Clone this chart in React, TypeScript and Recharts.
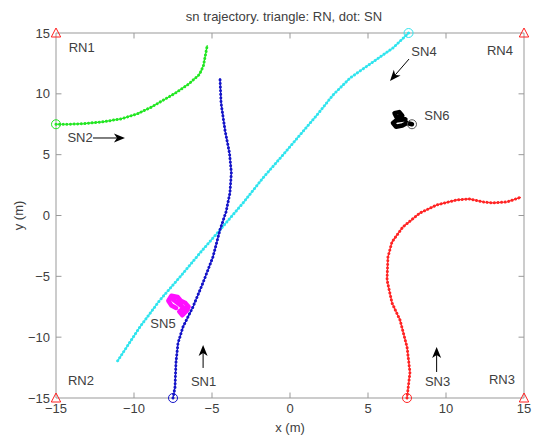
import React from "react";
import { ScatterChart, Scatter, XAxis, YAxis, ReferenceLine } from "recharts";

const axisTicks = [-15, -10, -5, 0, 5, 10, 15];

// SN1 (blue), start at the bottom
const sn1 = [
  { x: -7.5, y: -15 }, { x: -7.37, y: -14.1 }, { x: -7.31, y: -12.1 }, { x: -7.18, y: -10.5 },
  { x: -6.86, y: -9.16 }, { x: -6.22, y: -7.51 }, { x: -5.58, y: -5.54 }, { x: -4.94, y: -3.41 },
  { x: -4.49, y: -1.19 }, { x: -4.1, y: 0.3 }, { x: -3.85, y: 1.85 }, { x: -3.76, y: 3.5 },
  { x: -3.88, y: 5.14 }, { x: -4.17, y: 7.03 }, { x: -4.42, y: 9.25 }, { x: -4.49, y: 11.3 },
];

// SN2 (green)
const sn2 = [
  { x: -15, y: 7.5 }, { x: -14.2, y: 7.5 }, { x: -13.2, y: 7.55 }, { x: -12.0, y: 7.7 },
  { x: -10.8, y: 7.95 }, { x: -9.8, y: 8.35 }, { x: -8.9, y: 8.9 }, { x: -8.1, y: 9.5 },
  { x: -7.3, y: 10.1 }, { x: -6.5, y: 10.8 }, { x: -5.8, y: 11.6 }, { x: -5.55, y: 12.3 },
  { x: -5.45, y: 13.0 }, { x: -5.3, y: 14.0 },
];

// SN3 (red)
const sn3 = [
  { x: 7.5, y: -15 }, { x: 7.69, y: -12.9 }, { x: 7.5, y: -10.8 }, { x: 7.05, y: -8.58 },
  { x: 6.54, y: -7.19 }, { x: 6.22, y: -5.3 }, { x: 6.28, y: -3.41 }, { x: 6.54, y: -2.17 },
  { x: 7.24, y: -0.94 }, { x: 8.33, y: 0.21 }, { x: 9.42, y: 0.87 }, { x: 10.7, y: 1.28 },
  { x: 11.5, y: 1.36 }, { x: 12.4, y: 1.11 }, { x: 13.0, y: 1.03 }, { x: 13.9, y: 1.11 },
  { x: 14.8, y: 1.5 },
];

// SN4 (cyan)
const sn4 = [
  { x: 7.6, y: 15 }, { x: 6.6, y: 13.77 }, { x: 5.32, y: 12.62 }, { x: 3.85, y: 11.3 },
  { x: 2.76, y: 9.91 }, { x: 1.73, y: 8.26 }, { x: 0.64, y: 6.62 }, { x: -0.45, y: 4.98 },
  { x: -1.73, y: 3.09 }, { x: -3.01, y: 1.03 }, { x: -4.49, y: -1.19 }, { x: -5.77, y: -3.08 },
  { x: -7.05, y: -5.05 }, { x: -8.33, y: -6.94 }, { x: -9.62, y: -9.16 }, { x: -11.09, y: -12.03 },
];

// SN5 (magenta), a small cluster
const sn5 = [
  { x: -7.3, y: -7.6 }, { x: -7.6, y: -7.4 }, { x: -7.8, y: -7.0 }, { x: -7.6, y: -6.6 },
  { x: -7.2, y: -6.7 }, { x: -7.0, y: -7.0 }, { x: -6.7, y: -7.2 }, { x: -6.5, y: -7.5 },
  { x: -6.6, y: -7.8 }, { x: -6.9, y: -8.2 }, { x: -7.1, y: -7.9 }, { x: -6.8, y: -7.6 },
  { x: -7.1, y: -7.3 }, { x: -7.5, y: -6.9 },
];

// SN6 (black), a small cluster
const sn6 = [
  { x: 7.82, y: 7.5 }, { x: 7.5, y: 7.6 }, { x: 7.2, y: 7.4 }, { x: 6.8, y: 7.3 },
  { x: 6.6, y: 7.6 }, { x: 6.9, y: 7.9 }, { x: 6.7, y: 8.4 }, { x: 7.0, y: 8.5 },
  { x: 7.2, y: 8.2 }, { x: 7.0, y: 8.1 }, { x: 7.4, y: 7.9 }, { x: 6.8, y: 7.8 },
];

const rnPoints = [
  { x: -15, y: 15 }, { x: 15, y: 15 }, { x: -15, y: -15 }, { x: 15, y: -15 },
];

const nodeLabels = [
  { x: -13.35, y: 13.77, text: "RN1" },
  { x: -13.4, y: -13.6, text: "RN2" },
  { x: 13.59, y: -13.45, text: "RN3" },
  { x: 13.46, y: 13.6, text: "RN4" },
  { x: -13.46, y: 6.37, text: "SN2" },
  { x: 8.59, y: 13.44, text: "SN4" },
  { x: 9.42, y: 8.18, text: "SN6" },
  { x: -8.14, y: -8.91, text: "SN5" },
  { x: -5.54, y: -13.68, text: "SN1" },
  { x: 9.46, y: -13.68, text: "SN3" },
];

// arrows: tail -> tip
const arrows = [
  [{ x: -12.63, y: 6.37 }, { x: -10.58, y: 6.37 }],
  [{ x: 7.63, y: 12.86 }, { x: 6.41, y: 11.06 }],
  [{ x: -5.57, y: -12.53 }, { x: -5.57, y: -10.64 }],
  [{ x: 9.4, y: -12.86 }, { x: 9.4, y: -10.8 }],
];

const FRAME = "#999";
const TXT = "#404040";
const FONT = "'Liberation Sans', Arial, sans-serif";

const Nothing = () => <g />;

const Triangle = (p: any) => {
  const { cx, cy } = p;
  return (
    <path
      d={`M${cx},${cy - 5} L${cx + 4.7},${cy + 4} L${cx - 4.7},${cy + 4} Z`}
      fill="none"
      stroke="#ff2020"
      strokeWidth={1}
    />
  );
};

const ring = (color: string) => (p: any) =>
  <circle cx={p.cx} cy={p.cy} r={4.5} fill="none" stroke={color} strokeWidth={1} />;

const TextMark = (p: any) => (
  <text
    x={p.cx}
    y={p.cy}
    textAnchor="middle"
    dominantBaseline="central"
    fontSize={13}
    fontFamily={FONT}
    fill={TXT}
  >
    {p.payload.text}
  </text>
);

const Arrow = (p: any) => {
  const { x1, y1, x2, y2 } = p;
  const dx = x2 - x1;
  const dy = y2 - y1;
  const len = Math.hypot(dx, dy) || 1;
  const ux = dx / len;
  const uy = dy / len;
  const L = 11;
  const W = 4.5;
  const notch = 3;
  const bx = x2 - ux * L;
  const by = y2 - uy * L;
  const nx = -uy;
  const ny = ux;
  const mx = x2 - ux * (L - notch);
  const my = y2 - uy * (L - notch);
  return (
    <g>
      <line x1={x1} y1={y1} x2={mx} y2={my} stroke="#000" strokeWidth={1} />
      <path
        d={`M${x2},${y2} L${bx + nx * W},${by + ny * W} L${mx},${my} L${bx - nx * W},${by - ny * W} Z`}
        fill="#000"
      />
    </g>
  );
};

const minus = (v: number) => String(v).replace("-", "\u2212");

const trackLines = (data: any[], color: string, key: string) => [
  <Scatter
    key={key + "-a"}
    data={data}
    line={{ stroke: color, strokeWidth: 1.2, strokeLinejoin: "round" }}
    shape={Nothing}
    isAnimationActive={false}
  />,
  <Scatter
    key={key + "-b"}
    data={data}
    line={{ stroke: color, strokeWidth: 3, strokeDasharray: "0.01 3.6", strokeLinecap: "round" }}
    shape={Nothing}
    isAnimationActive={false}
  />,
  <Scatter
    key={key + "-s"}
    data={[data[0]]}
    shape={ring(color)}
    isAnimationActive={false}
  />,
];

const blobLine = (data: any[], color: string, key: string) => (
  <Scatter
    key={key}
    data={data}
    line={{ stroke: color, strokeWidth: 4.5, strokeLinejoin: "round", strokeLinecap: "round" }}
    shape={Nothing}
    isAnimationActive={false}
  />
);

export default function App() {
  return (
    <div style={{ position: "absolute", left: 0, top: 0, width: 540, height: 438, background: "#fff", fontFamily: FONT }}>
      <div
        style={{
          position: "absolute",
          left: 0,
          top: 9,
          width: 568,
          textAlign: "center",
          fontSize: 13,
          color: TXT,
        }}
      >
        sn trajectory. triangle: RN, dot: SN
      </div>
      <ScatterChart width={540} height={438} margin={{ top: 33, right: 16, bottom: 0, left: 0 }}>
        <XAxis
          type="number"
          dataKey="x"
          domain={[-15, 15]}
          ticks={axisTicks}
          tickFormatter={minus}
          tickLine={false}
          axisLine={{ stroke: FRAME }}
          tick={{ fill: TXT, fontSize: 13, fontFamily: FONT }}
          height={40}
          tickMargin={0}
          label={{ value: "x (m)", position: "insideBottom", offset: 6, fill: TXT, fontSize: 13, fontFamily: FONT }}
        />
        <YAxis
          type="number"
          dataKey="y"
          domain={[-15, 15]}
          ticks={axisTicks}
          tickFormatter={minus}
          tickLine={false}
          axisLine={{ stroke: FRAME }}
          tick={{ fill: TXT, fontSize: 13, fontFamily: FONT }}
          width={56}
          tickMargin={0}
          label={{ value: "y (m)", angle: -90, position: "insideLeft", offset: 18, textAnchor: "middle", fill: TXT, fontSize: 13, fontFamily: FONT }}
        />
        <ReferenceLine y={15} stroke={FRAME} />
        <ReferenceLine x={15} stroke={FRAME} />
        {axisTicks.slice(1, -1).map((t) => (
          <ReferenceLine key={"bt" + t} segment={[{ x: t, y: -15 }, { x: t, y: -14.55 }]} stroke={FRAME} />
        ))}
        {axisTicks.slice(1, -1).map((t) => (
          <ReferenceLine key={"tt" + t} segment={[{ x: t, y: 15 }, { x: t, y: 14.55 }]} stroke={FRAME} />
        ))}
        {axisTicks.slice(1, -1).map((t) => (
          <ReferenceLine key={"lt" + t} segment={[{ x: -15, y: t }, { x: -14.65, y: t }]} stroke={FRAME} />
        ))}
        {axisTicks.slice(1, -1).map((t) => (
          <ReferenceLine key={"rt" + t} segment={[{ x: 15, y: t }, { x: 14.65, y: t }]} stroke={FRAME} />
        ))}
        {trackLines(sn2, "#22e622", "sn2")}
        {trackLines(sn4, "#30e4ee", "sn4")}
        {trackLines(sn1, "#1414c8", "sn1")}
        {trackLines(sn3, "#ff2424", "sn3")}
        {blobLine(sn5, "#ff10ff", "sn5")}
        {blobLine(sn6, "#000000", "sn6")}
        <Scatter data={[sn6[0]]} shape={ring("#555")} isAnimationActive={false} />
        <Scatter data={rnPoints} shape={Triangle} isAnimationActive={false} />
        <Scatter data={nodeLabels} shape={TextMark} isAnimationActive={false} />
        {arrows.map((a, i) => (
          <ReferenceLine key={"ar" + i} segment={a} shape={Arrow} />
        ))}
      </ScatterChart>
    </div>
  );
}
